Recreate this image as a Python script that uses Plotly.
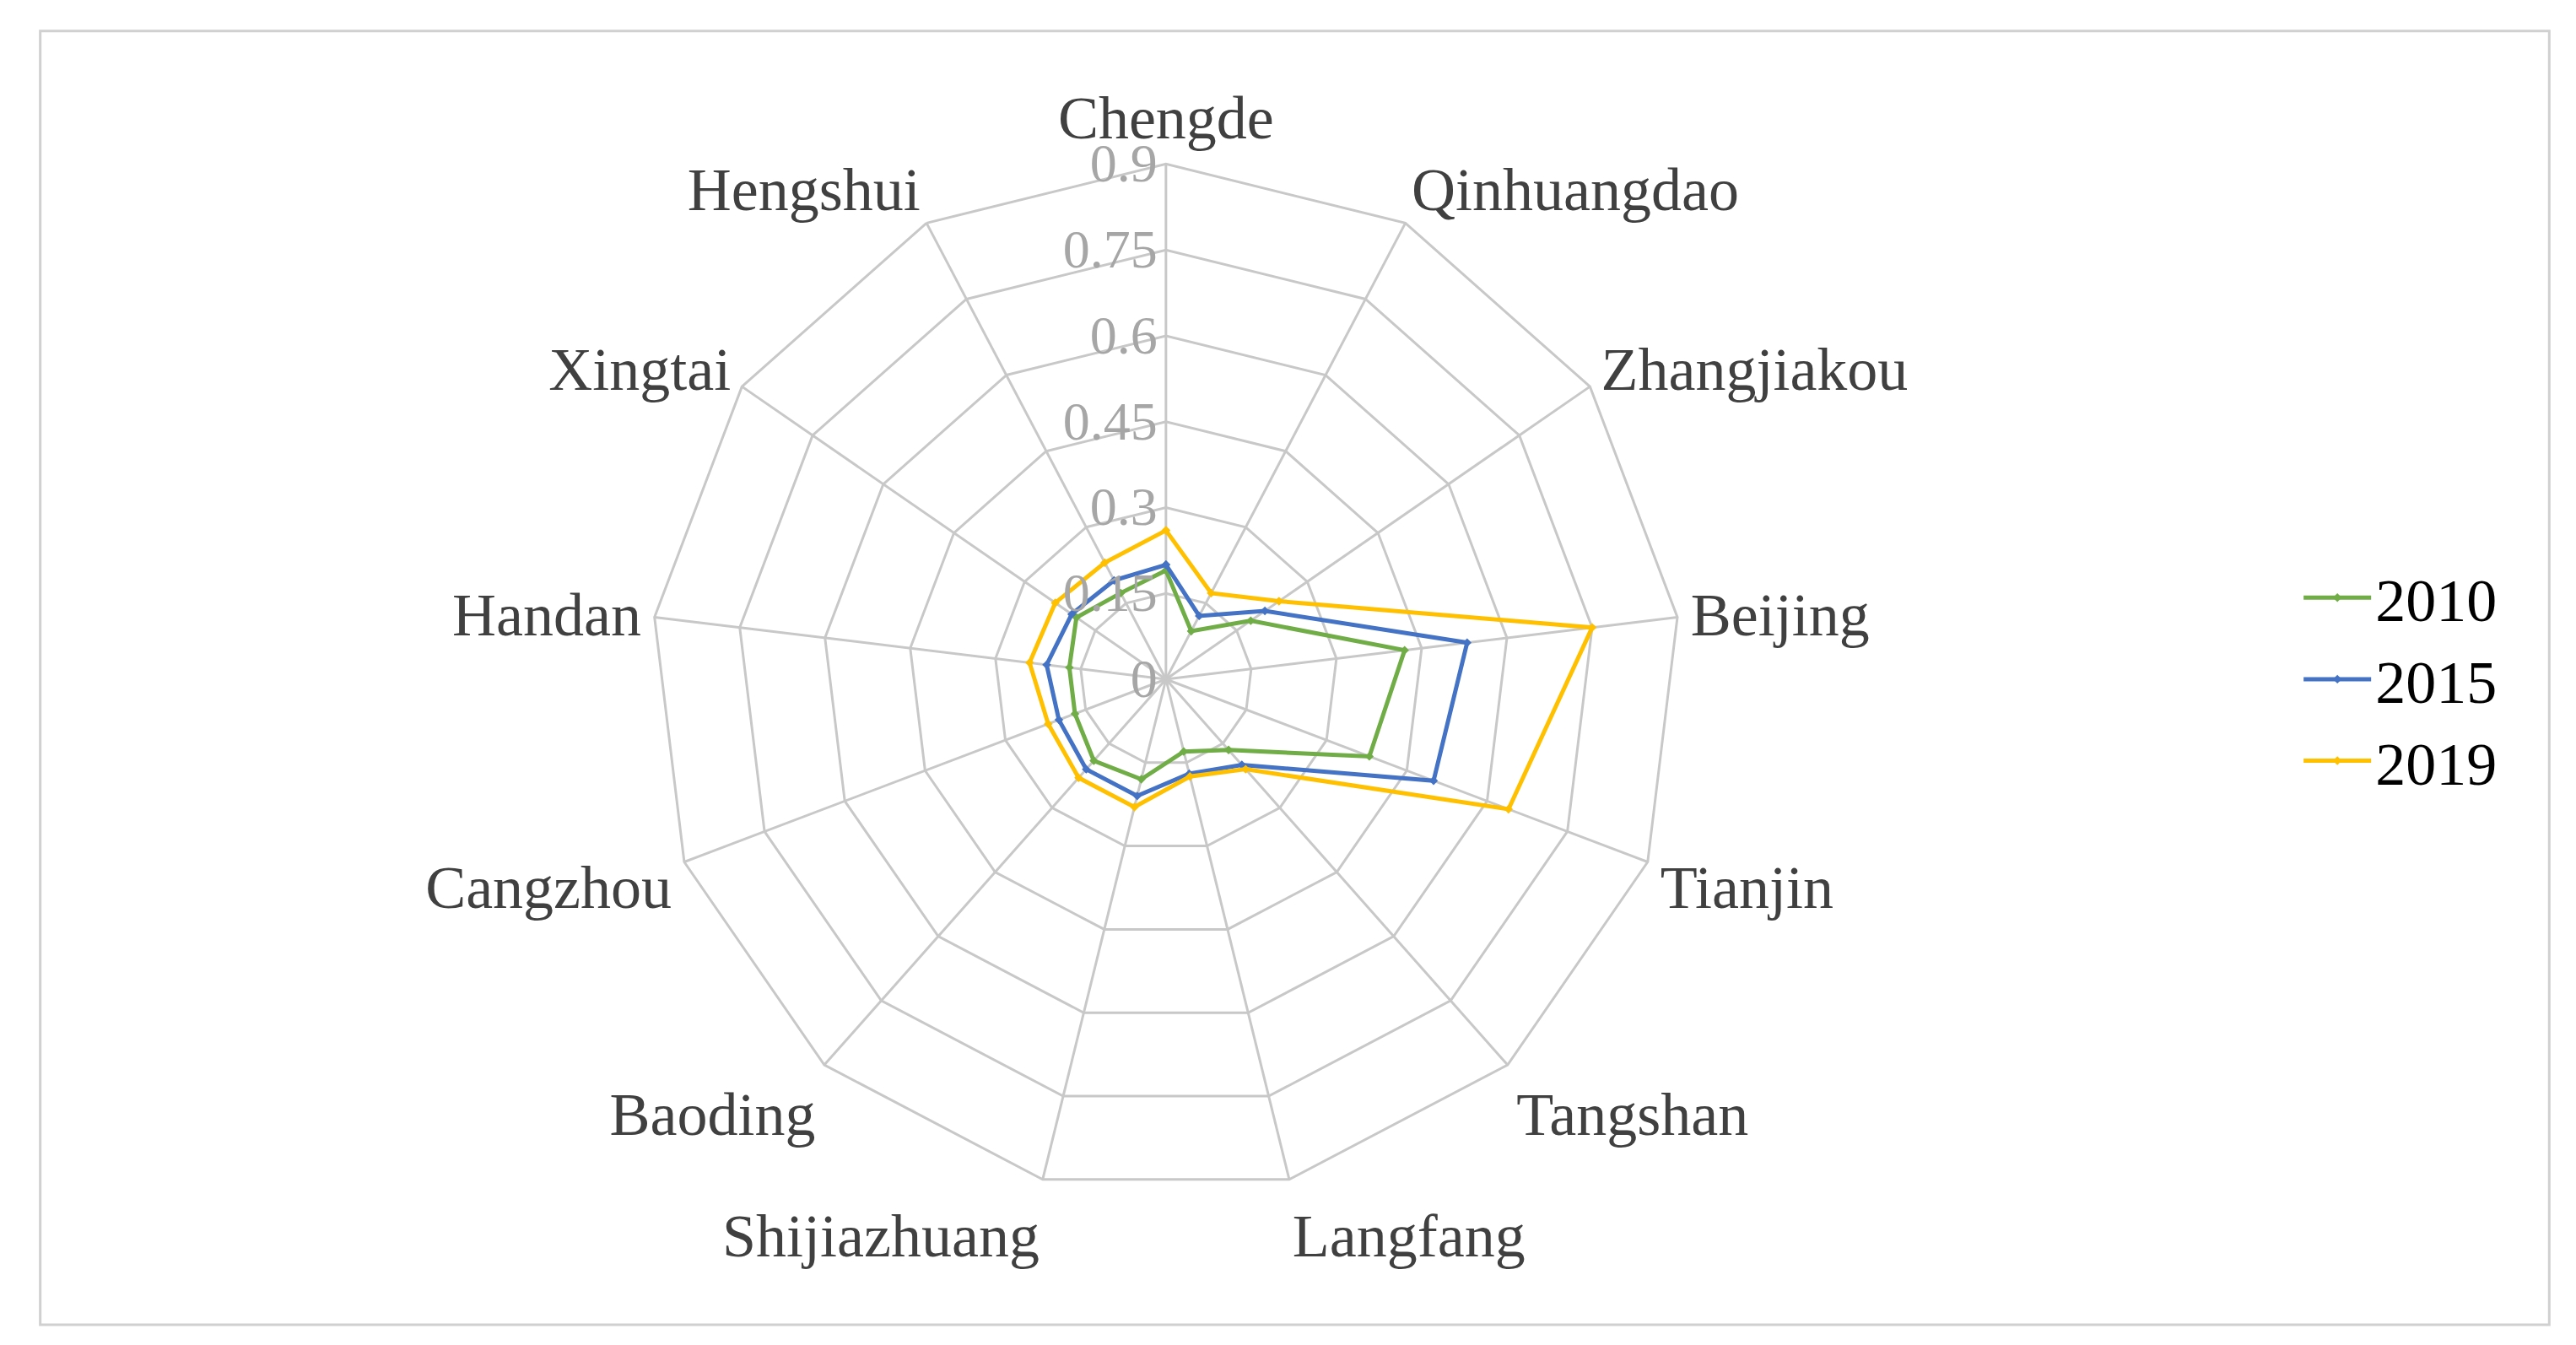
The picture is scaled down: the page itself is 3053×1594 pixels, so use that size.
import plotly.graph_objects as go

cities = ["Chengde", "Qinhuangdao", "Zhangjiakou", "Beijing", "Tianjin", "Tangshan",
          "Langfang", "Shijiazhuang", "Baoding", "Cangzhou", "Handan", "Xingtai", "Hengshui"]
v2010 = [0.19, 0.095, 0.18, 0.42, 0.38, 0.165, 0.13, 0.18, 0.19, 0.17, 0.17, 0.19, 0.17]
v2015 = [0.20, 0.125, 0.21, 0.53, 0.50, 0.20, 0.17, 0.21, 0.21, 0.20, 0.21, 0.20, 0.195]
v2019 = [0.26, 0.17, 0.24, 0.75, 0.64, 0.21, 0.175, 0.23, 0.23, 0.22, 0.24, 0.235, 0.23]
years = ["2010", "2015", "2019"]
colors = ["#70AD47", "#4472C4", "#FFC000"]

fig = go.Figure()
for name, vals, c in zip(years, [v2010, v2015, v2019], colors):
    fig.add_trace(go.Scatterpolar(
        r=vals + vals[:1], theta=cities + cities[:1], name=name,
        mode="lines+markers", line=dict(color=c, width=5),
        marker=dict(symbol="diamond", size=8, color=c)))

font = "Liberation Serif, DejaVu Serif, serif"
fig.update_layout(
    width=3053, height=1594,
    paper_bgcolor="white",
    font=dict(family=font, size=70, color="#404040"),
    margin=dict(l=0, r=0, t=0, b=0),
    polar=dict(
        domain=dict(x=[0.25, 0.65], y=[0.11, 0.89]),
        gridshape="linear", bgcolor="white",
        angularaxis=dict(direction="clockwise", rotation=90, linecolor="#C8C8C8",
                         gridcolor="#C8C8C8", gridwidth=3, linewidth=3, ticks="",
                         tickfont=dict(size=72, color="#404040")),
        radialaxis=dict(range=[0, 0.9], tickvals=[0, 0.15, 0.3, 0.45, 0.6, 0.75, 0.9],
                        ticktext=["0", "0.15", "0.3", "0.45", "0.6", "0.75", "0.9"],
                        angle=90, tickangle=90, side="counterclockwise",
                        showline=False, ticks="",
                        gridcolor="#C8C8C8", gridwidth=3,
                        tickfont=dict(size=64, color="#A6A6A6"))),
    legend=dict(x=0.89, y=0.5, xanchor="left", yanchor="middle",
                font=dict(size=72, color="#000000"), tracegroupgap=40,
                itemwidth=80),
    shapes=[dict(type="rect", xref="paper", yref="paper", x0=0.013, x1=0.987,
                 y0=0.02, y1=0.982, line=dict(color="#D0D0D0", width=3))],
)
fig.write_html("out.html")
